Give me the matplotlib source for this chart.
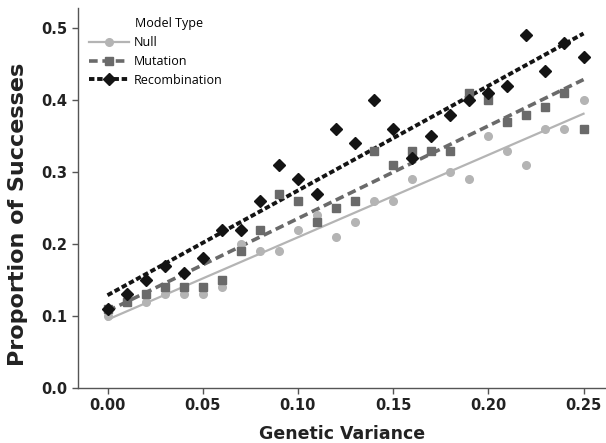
import matplotlib.pyplot as plt
import numpy as np

# genetic variance levels and proportion of successes per model type
variance = [0.00, 0.01, 0.02, 0.03, 0.04, 0.05, 0.06, 0.07, 0.08, 0.09,
            0.10, 0.11, 0.12, 0.13, 0.14, 0.15, 0.16, 0.17, 0.18, 0.19,
            0.20, 0.21, 0.22, 0.23, 0.24, 0.25]
null = [0.10, 0.12, 0.12, 0.13, 0.13, 0.13, 0.14, 0.20, 0.19, 0.19,
        0.22, 0.24, 0.21, 0.23, 0.26, 0.26, 0.29, 0.33, 0.30, 0.29,
        0.35, 0.33, 0.31, 0.36, 0.36, 0.40]
mutation = [0.11, 0.12, 0.13, 0.14, 0.14, 0.14, 0.15, 0.19, 0.22, 0.27,
            0.26, 0.23, 0.25, 0.26, 0.33, 0.31, 0.33, 0.33, 0.33, 0.41,
            0.40, 0.37, 0.38, 0.39, 0.41, 0.36]
recombination = [0.11, 0.13, 0.15, 0.17, 0.16, 0.18, 0.22, 0.22, 0.26, 0.31,
                 0.29, 0.27, 0.36, 0.34, 0.40, 0.36, 0.32, 0.35, 0.38, 0.40,
                 0.41, 0.42, 0.49, 0.44, 0.48, 0.46]
model_names = ['Null', 'Mutation', 'Recombination']

x = np.array(variance)

fig = plt.figure(figsize=(6.06, 4.43), dpi=100)
ax = fig.add_axes([0.1287, 0.124, 0.8713, 0.858])

styles = [
    dict(color='#b4b4b4', marker='o', ms=5.5, lw=1.6, ls='-'),
    dict(color='#6a6a6a', marker='s', ms=6, lw=2.6, ls=(0, (2.4, 1.3))),
    dict(color='#141414', marker='D', ms=6, lw=2.8, ls=(0, (1.4, 0.7))),
]

handles = []
for vals, st in zip([null, mutation, recombination], styles):
    y = np.array(vals)
    # least-squares trend line for each model
    slope, icpt = np.polyfit(x, y, 1)
    xs = np.array([x.min(), x.max()])
    ln, = ax.plot(xs, icpt + slope * xs, color=st['color'], lw=st['lw'],
                  ls=st['ls'], zorder=2)
    pts, = ax.plot(x, y, ls='none', marker=st['marker'], ms=st['ms'],
                   color=st['color'], mec=st['color'], zorder=3)
    handles.append((ln, pts))

ax.set_xlim(-0.0155, 0.2618)
ax.set_ylim(0, 0.528)
ax.set_xticks([0.00, 0.05, 0.10, 0.15, 0.20, 0.25])
ax.set_xticklabels(['0.00', '0.05', '0.10', '0.15', '0.20', '0.25'])
ax.set_yticks([0.0, 0.1, 0.2, 0.3, 0.4, 0.5])
ax.set_yticklabels(['0.0', '0.1', '0.2', '0.3', '0.4', '0.5'])

for side in ['top', 'right']:
    ax.spines[side].set_visible(False)
for side in ['left', 'bottom']:
    ax.spines[side].set_color('#555555')
    ax.spines[side].set_linewidth(1.0)
ax.tick_params(direction='out', length=4, width=1, color='#555555',
               labelsize=10.5, labelcolor='#222222')
for lab in ax.get_xticklabels() + ax.get_yticklabels():
    lab.set_fontweight('bold')

ax.set_xlabel('Genetic Variance', fontsize=12.5, fontweight='heavy',
              color='#222222', labelpad=8)
ax.set_ylabel('Proportion of Successes', fontsize=16, fontweight='heavy',
              color='#222222')
ax.yaxis.set_label_coords(-0.094, 0.458)

leg = ax.legend(handles, model_names, loc='upper left',
                bbox_to_anchor=(0.0, 0.955), frameon=False, numpoints=1,
                handlelength=3.2, handletextpad=0.4, labelspacing=0.45,
                prop={'family': 'Open Sans', 'size': 9})
ax.text(0.108, 0.96, 'Model Type', transform=ax.transAxes,
        fontsize=9, family='Open Sans', va='center', ha='left')

fig.savefig('out.png', dpi=100)
